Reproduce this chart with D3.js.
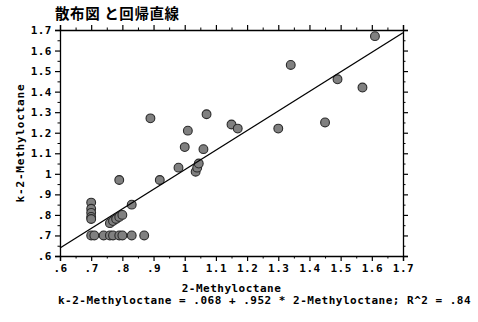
<!DOCTYPE html>
<html>
<head>
<meta charset="utf-8">
<script src="https://cdn.jsdelivr.net/npm/d3@7"></script>
<style>
  html, body { margin: 0; padding: 0; background: #fff; }
  svg { display: block; }
  .mono { font-family: "DejaVu Sans Mono", monospace; font-size: 11px; font-weight: bold; letter-spacing: 0.5px; fill: #000; }
</style>
</head>
<body>
<svg id="chart" width="478" height="322"></svg>
<script>
// 2-Methyloctane (x) vs k-2-Methyloctane (y)
const xValues = [
  0.70, 0.71, 0.74, 0.76, 0.77, 0.79, 0.80, 0.83, 0.87,
  0.70, 0.70, 0.70, 0.70, 0.70,
  0.76, 0.77, 0.78, 0.79, 0.80,
  0.83, 0.79, 0.92, 0.89, 0.98, 1.00, 1.01, 1.06, 1.07,
  1.035, 1.04, 1.045, 1.15, 1.17, 1.30, 1.34, 1.45, 1.49, 1.57, 1.61
];
const yValues = [
  0.70, 0.70, 0.70, 0.70, 0.70, 0.70, 0.70, 0.70, 0.70,
  0.86, 0.83, 0.81, 0.79, 0.78,
  0.76, 0.77, 0.78, 0.79, 0.80,
  0.85, 0.97, 0.97, 1.27, 1.03, 1.13, 1.21, 1.12, 1.29,
  1.01, 1.03, 1.05, 1.24, 1.22, 1.22, 1.53, 1.25, 1.46, 1.42, 1.67
];
const majorTicks = [0.6, 0.7, 0.8, 0.9, 1.0, 1.1, 1.2, 1.3, 1.4, 1.5, 1.6, 1.7];
const minorTicks = [0.65, 0.75, 0.85, 0.95, 1.05, 1.15, 1.25, 1.35, 1.45, 1.55, 1.65];
const intercept = 0.068;
const slope = 0.952;
const rSquared = 0.84;

const titleText = "散布図 と回帰直線";
const xTitle = "2-Methyloctane";
const yTitle = "k-2-Methyloctane";

const margin = { left: 60, right: 75, top: 30, bottom: 66 };
const W = 478, H = 322;
const svg = d3.select("#chart");

const x = d3.scaleLinear().domain([0.6, 1.7]).range([margin.left, W - margin.right]);
const y = d3.scaleLinear().domain([0.6, 1.7]).range([H - margin.bottom, margin.top]);

const fmt = v => {
  const s = d3.format(".1f")(v);
  if (s.endsWith(".0")) return s.slice(0, -2);
  return s.startsWith("0.") ? s.slice(1) : s;
};
function fmt3(v) { const s = String(v); return s.startsWith("0.") ? s.slice(1) : s; }

// axes: major ticks with labels on bottom/left, plain ticks on top/right
function drawAxis(axisFn, scale, transform, labels) {
  const g = svg.append("g").attr("transform", transform);
  g.call(axisFn(scale).tickValues(majorTicks).tickSize(5).tickPadding(3)
    .tickFormat(labels ? fmt : ""));
  g.select(".domain").attr("stroke", "#000").attr("stroke-width", 1.3);
  g.selectAll(".tick line").attr("stroke", "#000").attr("stroke-width", 1.2);
  g.selectAll(".tick text").attr("class", "mono").attr("font-family", null).attr("font-size", null);
  const gm = svg.append("g").attr("transform", transform);
  gm.call(axisFn(scale).tickValues(minorTicks).tickSize(2.5).tickFormat(""));
  gm.select(".domain").remove();
  gm.selectAll(".tick line").attr("stroke", "#000").attr("stroke-width", 1);
  return g;
}
drawAxis(d3.axisBottom, x, `translate(0,${H - margin.bottom})`, true);
drawAxis(d3.axisTop, x, `translate(0,${margin.top})`, false);
drawAxis(d3.axisLeft, y, `translate(${margin.left},0)`, true);
drawAxis(d3.axisRight, y, `translate(${W - margin.right},0)`, false);

// points
const pts = xValues.map((v, i) => [v, yValues[i]]);
svg.append("g").selectAll("circle").data(pts).join("circle")
  .attr("cx", d => x(d[0])).attr("cy", d => y(d[1])).attr("r", 4.4)
  .attr("fill", "#808080").attr("stroke", "#2a2a2a").attr("stroke-width", 1.1);

// regression line
const x0 = 0.6, x1 = 1.7;
svg.append("line")
  .attr("x1", x(x0)).attr("y1", y(intercept + slope * x0))
  .attr("x2", x(x1)).attr("y2", y(intercept + slope * x1))
  .attr("stroke", "#000").attr("stroke-width", 1.3);

// titles
svg.append("text").attr("x", 55).attr("y", 19)
  .attr("font-family", "'Noto Sans CJK JP', sans-serif").attr("font-size", 14.5)
  .attr("font-weight", "bold").attr("letter-spacing", 0.6).text(titleText);

const cx = (x.range()[0] + x.range()[1]) / 2;
svg.append("text").attr("class", "mono").attr("x", cx).attr("y", 292)
  .attr("text-anchor", "middle").text(xTitle);
svg.append("text").attr("class", "mono")
  .attr("transform", `translate(24,${(y.range()[0] + y.range()[1]) / 2}) rotate(-90)`)
  .attr("text-anchor", "middle").style("letter-spacing", "0.8px").text(yTitle);
svg.append("text").attr("class", "mono").attr("x", 58).attr("y", 304)
  .text(`${yTitle} = ${fmt3(intercept)} + ${fmt3(slope)} * ${xTitle}; R^2 = ${fmt3(rSquared)}`);
</script>
</body>
</html>
